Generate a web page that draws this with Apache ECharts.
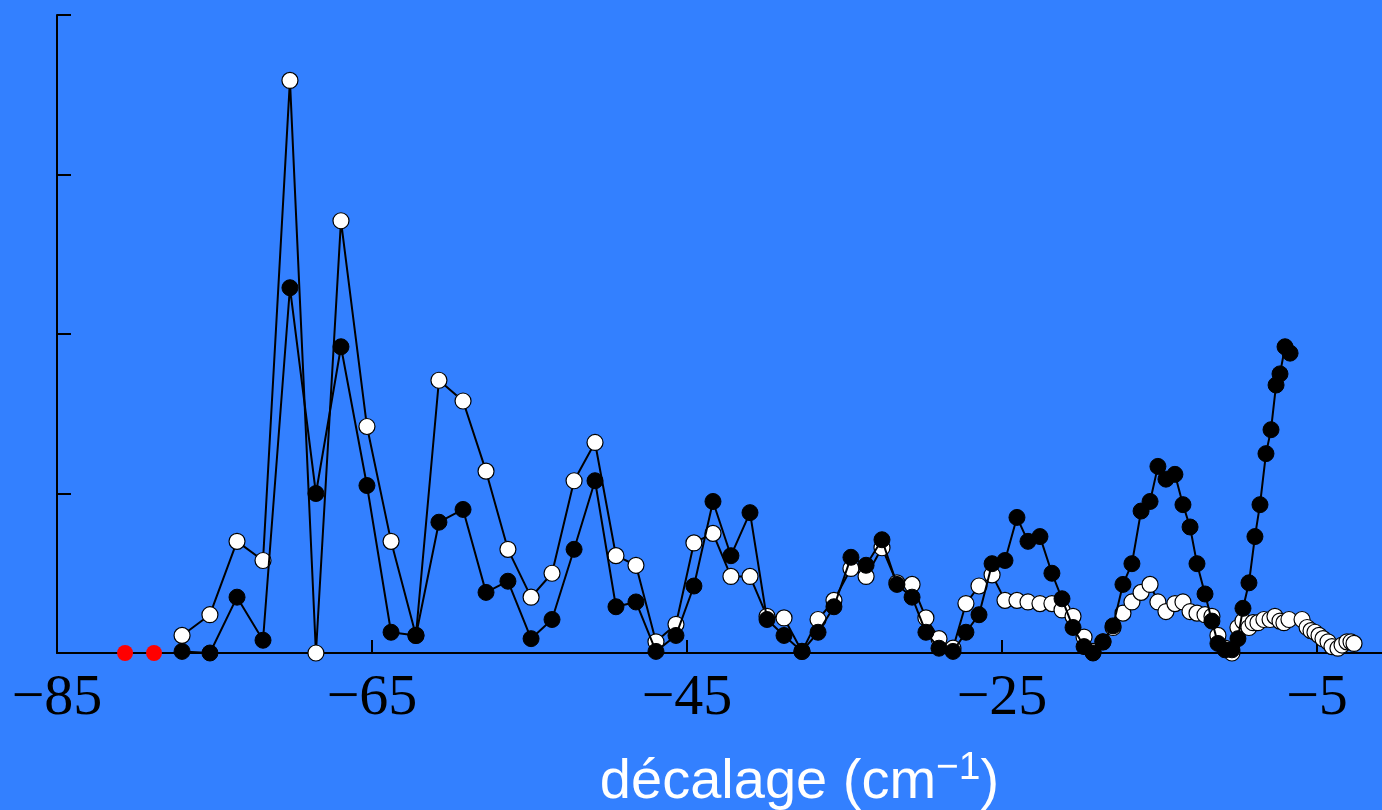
<!DOCTYPE html>
<html>
<head>
<meta charset="utf-8">
<script src="https://cdn.jsdelivr.net/npm/echarts@6/dist/echarts.min.js"></script>
<style>
html,body{margin:0;padding:0;background:#3380ff;}
#chart{width:1382px;height:810px;}
</style>
</head>
<body>
<div id="chart"></div>
<script>
// x tick labels
const xTicks = [-85, -65, -45, -25, -5];
const xName = 'décalage (cm';
const xNameSup = '−1';

// black (filled) series
const blackX = [-77.06,-75.29,-73.57,-71.92,-70.21,-68.56,-66.97,-65.32,-63.79,-62.21,-60.75,-59.22,-57.76,-56.37,-54.90,-53.57,-52.17,-50.84,-49.51,-48.24,
  -46.97,-45.70,-44.56,-43.35,-42.21,-41.00,-39.92,-38.84,-37.70,-36.68,-35.67,-34.59,-33.63,-32.62,-31.67,-30.71,-29.83,-29.00,-28.11,-27.29,
  -26.46,-25.63,-24.81,-24.05,-23.35,-22.59,-21.83,-21.19,-20.49,-19.79,-19.22,-18.59,-17.95,-17.32,-16.75,-16.17,-15.60,-15.10,-14.59,-14.02,
  -13.51,-13.06,-12.62,-12.11,-11.67,-11.29,-10.84,-10.40,-10.02,-9.70,-9.32,-8.94,-8.62,-8.24,-7.92,-7.60,-7.35,-7.03,-6.71];
const blackY = [0.01,0.00,0.35,0.08,2.29,1.00,1.92,1.05,0.13,0.11,0.82,0.90,0.38,0.45,0.09,0.21,0.65,1.08,0.29,0.32,
  0.01,0.11,0.42,0.95,0.61,0.88,0.21,0.11,0.01,0.13,0.29,0.60,0.55,0.71,0.43,0.35,0.13,0.03,0.01,0.13,
  0.24,0.56,0.58,0.85,0.70,0.73,0.50,0.34,0.16,0.04,0.00,0.07,0.17,0.43,0.56,0.89,0.95,1.17,1.09,1.12,
  0.93,0.79,0.56,0.37,0.20,0.06,0.02,0.02,0.09,0.28,0.44,0.73,0.93,1.25,1.40,1.68,1.75,1.92,1.88];

// white (open) series
const whiteX = [-77.06,-75.29,-73.57,-71.92,-70.21,-68.56,-66.97,-65.32,-63.79,-62.21,-60.75,-59.22,-57.76,-56.37,-54.90,-53.57,-52.17,-50.84,-49.51,-48.24,
  -46.97,-45.70,-44.56,-43.35,-42.21,-41.00,-39.92,-38.84,-37.70,-36.68,-35.67,-34.59,-33.63,-32.62,-31.67,-30.71,-29.83,-29.00,-28.11,-27.29,
  -26.46,-25.63,-24.81,-24.05,-23.35,-22.59,-21.83,-21.19,-20.49,-19.79,-19.22,-18.59,-17.95,-17.32,-16.75,-16.17,-15.60,-15.10,-14.59,-14.02,
  -13.51,-13.06,-12.62,-12.11,-11.67,-11.29,-10.84,-10.40,-10.02,-9.70,-9.32,-9.06,-8.75,-8.37,-7.98,-7.67,-7.35,-7.10,-6.78,-5.95,
  -5.63,-5.38,-5.13,-4.87,-4.62,-4.30,-4.05,-3.67,-3.41,-3.10,-2.84,-2.65];
const whiteY = [0.11,0.24,0.70,0.58,3.59,0.00,2.71,1.42,0.70,0.11,1.71,1.58,1.14,0.65,0.35,0.50,1.08,1.32,0.61,0.55,
  0.07,0.18,0.69,0.75,0.48,0.48,0.23,0.22,0.01,0.21,0.33,0.53,0.48,0.66,0.44,0.43,0.22,0.09,0.03,0.31,
  0.42,0.49,0.33,0.33,0.32,0.31,0.31,0.27,0.23,0.10,0.01,0.07,0.16,0.25,0.32,0.38,0.43,0.32,0.26,0.31,
  0.32,0.26,0.25,0.24,0.23,0.11,0.03,0.00,0.16,0.20,0.16,0.19,0.19,0.21,0.21,0.23,0.20,0.19,0.21,0.21,
  0.16,0.14,0.13,0.11,0.09,0.07,0.04,0.03,0.05,0.07,0.07,0.06];

// red points
const redX = [-80.68, -78.84];
const redY = [0, 0];

const zip = (xs, ys) => xs.map((x, i) => [x, ys[i]]);

const chart = echarts.init(document.getElementById('chart'), null, {renderer: 'canvas'});
chart.setOption({
  backgroundColor: '#3380ff',
  animation: false,
  grid: {left: 57, right: 0, top: 15, bottom: 157, containLabel: false, outerBoundsMode: 'none'},
  xAxis: {
    type: 'value', min: -85, max: -0.873, interval: 20,
    splitLine: {show: false},
    axisLine: {show: true, onZero: true, lineStyle: {color: '#000', width: 2}},
    axisTick: {show: true, inside: true, length: 13, lineStyle: {color: '#000', width: 2}},
    axisLabel: {
      show: true, color: '#000', fontFamily: 'Liberation Serif', fontSize: 58, margin: 17,
      showMaxLabel: false,
      formatter: v => xTicks.some(t => Math.abs(t - v) < 1e-6) ? '\u2212' + Math.abs(v) : ''
    },
    name: '{a|' + xName + '}{s|' + xNameSup + '}{a|)}',
    nameLocation: 'middle', nameGap: 96,
    nameTextStyle: {
      padding: [0, 0, 0, 160],
      rich: {
        a: {color: '#fff', fontFamily: 'Liberation Sans', fontSize: 56, verticalAlign: 'bottom', lineHeight: 62},
        s: {color: '#fff', fontFamily: 'Liberation Sans', fontSize: 39, verticalAlign: 'top', lineHeight: 62, padding: [0,0,32,0]}
      }
    }
  },
  yAxis: {
    type: 'value', min: 0, max: 4, interval: 1,
    splitLine: {show: false},
    axisLine: {show: true, lineStyle: {color: '#000', width: 2}},
    axisTick: {show: true, inside: true, length: 14, lineStyle: {color: '#000', width: 2}},
    axisLabel: {show: false}
  },
  series: [
    {
      type: 'line', data: zip(whiteX, whiteY), symbol: 'circle', symbolSize: 16,
      lineStyle: {color: '#000', width: 2},
      itemStyle: {color: '#fff', borderColor: '#000', borderWidth: 1.2},
      z: 2
    },
    {
      type: 'line', data: zip(blackX, blackY), symbol: 'circle', symbolSize: 16,
      lineStyle: {color: '#000', width: 2},
      itemStyle: {color: '#000', borderColor: '#000', borderWidth: 1},
      z: 3
    },
    {
      type: 'scatter', data: zip(redX, redY), symbol: 'circle', symbolSize: 16,
      itemStyle: {color: '#ff0000', opacity: 1},
      z: 4
    }
  ]
});
</script>
</body>
</html>
